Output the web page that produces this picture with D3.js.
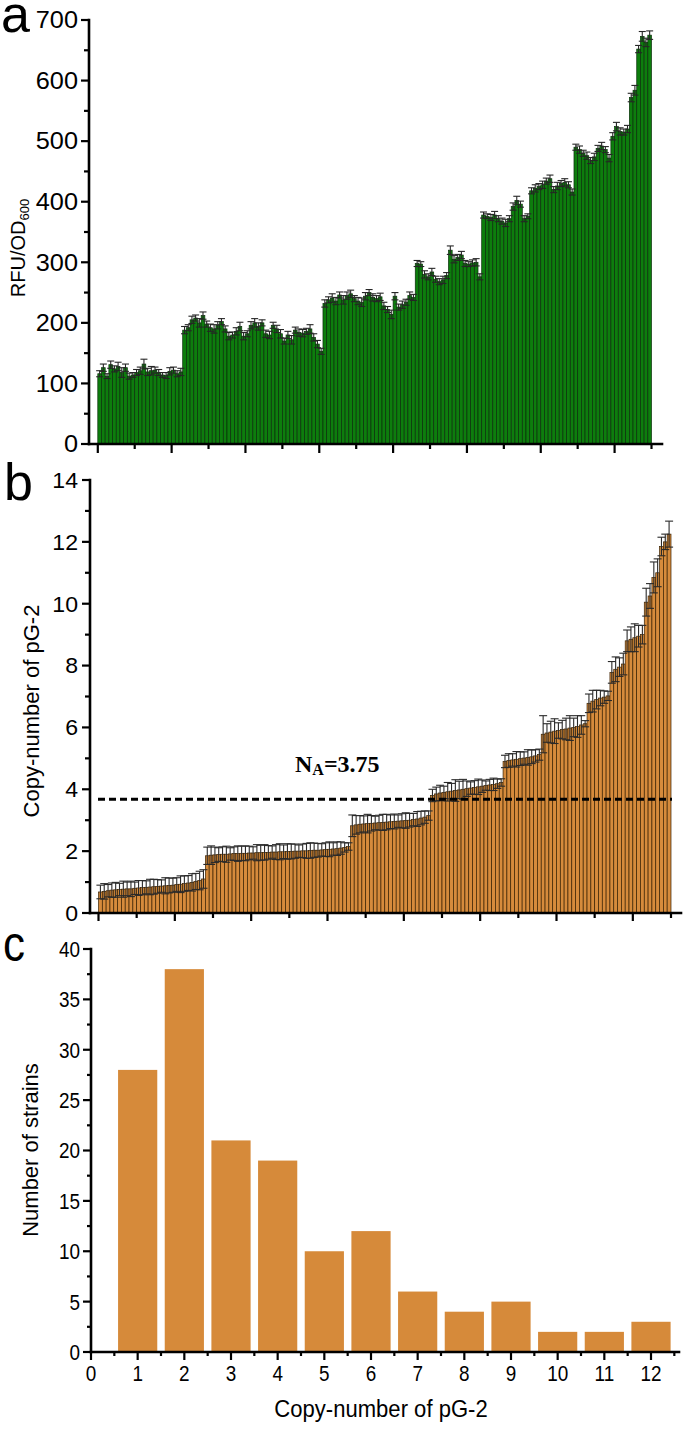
<!DOCTYPE html>
<html><head><meta charset="utf-8">
<script src="https://cdn.jsdelivr.net/npm/d3@7"></script>
<style>body{margin:0;background:#fff}svg{display:block}</style>
</head><body>
<svg id="chart" width="685" height="1453"></svg>
<script>
// ---------- DATA ----------
// Panel a: RFU/OD600 of the 150 strains (same order as panel b)
const rfuValues = [
  116,126,112,131,124,128,118,126,112,114,118,121,132,119,121,122,118,114,113,120,122,116,119,
  188,192,205,208,200,212,198,192,190,196,202,190,178,180,186,194,178,182,196,200,194,200,182,180,196,190,182,170,180,172,188,184,183,186,190,176,165,153,
  232,238,241,236,246,238,245,248,240,236,234,244,250,242,240,243,228,222,214,244,226,230,234,245,242,
  298,297,280,276,284,272,268,271,278,320,305,308,312,298,297,299,300,276,
  378,376,374,378,372,368,365,372,392,402,396,372,376,
  418,422,425,428,434,438,420,426,430,432,428,416,
  490,486,480,476,468,474,488,492,486,472,
  508,524,516,515,520,
  572,584,
  652,673,663,675
];
const rfuErrors = [
  5,6,4,6,5,7,8,6,5,4,5,6,8,6,7,5,5,4,5,6,5,5,6,
  6,5,6,5,7,6,5,6,7,6,5,5,6,5,6,7,6,5,6,7,6,5,6,6,5,6,7,5,6,7,5,6,6,5,7,6,6,5,
  6,5,7,6,5,7,6,6,5,6,7,6,5,6,5,6,6,5,7,6,5,6,5,6,5,
  5,4,6,5,6,5,5,6,5,7,6,5,6,5,4,5,6,5,
  5,4,5,6,5,5,6,5,6,7,5,5,4,
  5,6,5,6,5,6,5,6,5,6,5,5,
  5,6,5,6,5,6,5,6,5,6,
  6,7,6,5,6,
  7,8,
  6,8,7,7
];
// Panel b: copy-number of pG-2 for the 150 strains (sorted)
const copyValues = [
  0.68,0.70,0.72,0.74,0.75,0.76,0.77,0.78,0.78,0.80,0.81,0.82,0.83,0.84,0.85,0.86,0.87,0.88,0.89,0.90,0.92,0.93,0.95,0.97,0.99,1.02,1.05,1.10,
  1.85,1.87,1.88,1.89,1.90,1.90,1.91,1.92,1.92,1.93,1.93,1.94,1.94,1.95,1.95,1.96,1.96,1.97,1.97,1.98,1.98,1.99,1.99,2.00,2.00,2.01,2.01,2.02,2.03,2.03,2.04,2.05,2.06,2.07,2.08,2.10,2.12,2.15,
  2.82,2.85,2.87,2.88,2.89,2.90,2.91,2.92,2.93,2.94,2.95,2.96,2.97,2.98,2.99,3.00,3.02,3.04,3.07,3.10,3.15,
  3.80,3.85,3.88,3.90,3.92,3.94,3.96,3.98,4.00,4.02,4.04,4.06,4.08,4.10,4.12,4.14,4.16,4.18,4.22,
  4.90,4.93,4.95,4.97,4.99,5.01,5.03,5.05,5.08,5.12,
  5.78,5.82,5.85,5.88,5.90,5.93,5.95,5.98,6.00,6.03,6.08,6.12,
  6.78,6.85,6.90,6.95,6.98,7.02,
  7.78,7.88,7.95,8.05,
  8.80,8.85,8.90,8.95,9.00,
  10.05,10.25,
  10.85,11.00,
  11.85,12.00,12.25
];
const copyErrors = [
  0.22,0.25,0.20,0.23,0.24,0.20,0.26,0.22,0.25,0.20,0.24,0.23,0.21,0.25,0.24,0.22,0.20,0.26,0.24,0.23,0.22,0.27,0.25,0.24,0.28,0.26,0.30,0.30,
  0.28,0.30,0.25,0.22,0.24,0.26,0.20,0.22,0.25,0.23,0.24,0.22,0.20,0.26,0.24,0.25,0.22,0.20,0.24,0.26,0.22,0.25,0.24,0.23,0.20,0.22,0.24,0.25,0.23,0.22,0.20,0.22,0.24,0.20,0.22,0.20,0.15,0.12,
  0.35,0.30,0.28,0.26,0.30,0.25,0.22,0.24,0.26,0.25,0.22,0.24,0.20,0.23,0.25,0.22,0.20,0.24,0.22,0.20,0.15,
  0.20,0.22,0.25,0.20,0.30,0.25,0.35,0.28,0.32,0.25,0.20,0.22,0.25,0.20,0.15,0.18,0.20,0.15,0.12,
  0.20,0.22,0.20,0.25,0.22,0.20,0.25,0.22,0.20,0.18,
  0.60,0.30,0.35,0.40,0.25,0.30,0.35,0.40,0.30,0.35,0.30,0.10,
  0.30,0.35,0.30,0.25,0.20,0.15,
  0.35,0.40,0.30,0.35,
  0.35,0.40,0.45,0.35,0.30,
  0.45,0.40,
  0.50,0.45,
  0.30,0.25,0.42
];
const meanLineValue = 3.68;
const meanLabelText = "3.75";
// Panel c: histogram
const histBins = [1,2,3,4,5,6,7,8,9,10,11,12];
const histCounts = [28,38,21,19,10,12,6,4,5,2,2,3];
// tick values
const rfuTicks = [0,100,200,300,400,500,600,700];
const rfuMinorTicks = [50,150,250,350,450,550,650];
const copyTicks = [0,2,4,6,8,10,12,14];
const copyMinorTicks = [1,3,5,7,9,11,13];
const strainMajorTicks = [0,20,40,60,80,100,120,140];
const strainMinorTicks = [10,30,50,70,90,110,130,150];
const countTicks = [0,5,10,15,20,25,30,35,40];
const countMinorTicks = [2.5,7.5,12.5,17.5,22.5,27.5,32.5,37.5];
const binTicks = [0,1,2,3,4,5,6,7,8,9,10,11,12];
const binMinorTicks = [0.5,1.5,2.5,3.5,4.5,5.5,6.5,7.5,8.5,9.5,10.5,11.5,12.5];

// ---------- DRAWING ----------
const svg = d3.select("#chart");
const FONT = "'Liberation Sans', Arial, Helvetica, sans-serif";
const AX = 2.6;

function vAxis(g, scale, x, y0, y1, major, minor, fmt, fs, labelRight, majLen, minLen, sx) {
  g.append("line").attr("x1", x).attr("x2", x).attr("y1", y0).attr("y2", y1)
    .attr("stroke", "#000").attr("stroke-width", AX).attr("stroke-linecap","square");
  g.selectAll(null).data(major).enter().append("line")
    .attr("x1", x).attr("x2", x - majLen).attr("y1", d => scale(d)).attr("y2", d => scale(d))
    .attr("stroke", "#000").attr("stroke-width", 2.2);
  g.selectAll(null).data(minor).enter().append("line")
    .attr("x1", x).attr("x2", x - minLen).attr("y1", d => scale(d)).attr("y2", d => scale(d))
    .attr("stroke", "#000").attr("stroke-width", 2.2);
  g.selectAll(null).data(major).enter().append("text")
    .attr("transform", d => `translate(${labelRight},${scale(d) + fs*0.36}) scale(${sx},1)`)
    .attr("text-anchor", "end").attr("font-family", FONT).attr("font-size", fs)
    .text(d => fmt(d));
}
function hAxis(g, scale, y, x0, x1, major, minor, majLen, minLen) {
  g.append("line").attr("x1", x0).attr("x2", x1).attr("y1", y).attr("y2", y)
    .attr("stroke", "#000").attr("stroke-width", AX).attr("stroke-linecap","square");
  g.selectAll(null).data(major).enter().append("line")
    .attr("x1", d => scale(d)).attr("x2", d => scale(d)).attr("y1", y).attr("y2", y + majLen)
    .attr("stroke", "#000").attr("stroke-width", 2.2);
  g.selectAll(null).data(minor).enter().append("line")
    .attr("x1", d => scale(d)).attr("x2", d => scale(d)).attr("y1", y).attr("y2", y + minLen)
    .attr("stroke", "#000").attr("stroke-width", 2.2);
}
function errorBars(g, data, xs, ys, capW, color) {
  const eg = g.append("g").attr("stroke", color).attr("stroke-width", 1.1);
  data.forEach((d, i) => {
    const cx = (xs(i) + xs(i + 1)) / 2;
    const yt = ys(d.v + d.e), yb = ys(d.v - d.e);
    eg.append("line").attr("x1", cx).attr("x2", cx).attr("y1", yt).attr("y2", yb);
    eg.append("line").attr("x1", cx - capW/2).attr("x2", cx + capW/2).attr("y1", yt).attr("y2", yt);
    eg.append("line").attr("x1", cx - capW/2).attr("x2", cx + capW/2).attr("y1", yb).attr("y2", yb);
  });
}

// ===== Panel a =====
{
  const g = svg.append("g");
  const x = d3.scaleLinear().domain([0, 150]).range([97.8, 651.5]);
  const y = d3.scaleLinear().domain([0, 700]).range([444, 20]);
  const data = rfuValues.map((v, i) => ({v, e: rfuErrors[i]}));
  g.selectAll("rect").data(data).enter().append("rect")
    .attr("x", (d, i) => x(i)).attr("width", (d, i) => x(i + 1) - x(i))
    .attr("y", d => y(d.v)).attr("height", d => y(0) - y(d.v))
    .attr("fill", "#0d7d0d").attr("stroke", "#0b2f0b").attr("stroke-width", 0.7);
  errorBars(g, data, x, y, 7, "#262626");
  vAxis(g, y, 89, 444, 20, rfuTicks, rfuMinorTicks, d => d, 23, 78, 8, 5, 1.1);
  hAxis(g, x, 444, 89, 662, strainMajorTicks, strainMinorTicks, 9, 5);
  const t = g.append("text").attr("transform", "translate(25,248) rotate(-90)")
    .attr("text-anchor", "middle").attr("font-family", FONT).attr("font-size", 20);
  t.append("tspan").text("RFU/OD");
  t.append("tspan").attr("font-size", 13).attr("dy", 4).text("600");
  svg.append("text").attr("x", 1).attr("y", 32).attr("font-family", FONT).attr("font-size", 52).text("a");
}

// ===== Panel b =====
{
  const g = svg.append("g");
  const x = d3.scaleLinear().domain([0, 150]).range([98.5, 671]);
  const y = d3.scaleLinear().domain([0, 14]).range([913, 480]);
  const data = copyValues.map((v, i) => ({v, e: copyErrors[i]}));
  g.selectAll("rect").data(data).enter().append("rect")
    .attr("x", (d, i) => x(i)).attr("width", (d, i) => x(i + 1) - x(i))
    .attr("y", d => y(d.v)).attr("height", d => y(0) - y(d.v))
    .attr("fill", "#d68b3c").attr("stroke", "#3a2100").attr("stroke-width", 0.7);
  errorBars(g, data, x, y, 8, "#2a2a2a");
  g.append("line").attr("x1", 98).attr("x2", 672)
    .attr("y1", y(meanLineValue)).attr("y2", y(meanLineValue))
    .attr("stroke", "#000").attr("stroke-width", 3).attr("stroke-dasharray", "7,4");
  const lab = g.append("text").attr("x", 295).attr("y", 772)
    .attr("font-family", "'Liberation Serif', 'Times New Roman', serif").attr("font-weight", "bold").attr("font-size", 24);
  lab.append("tspan").text("N");
  lab.append("tspan").attr("font-size", 16).attr("dy", 3).text("A");
  lab.append("tspan").attr("dy", -3).text("=" + meanLabelText);
  vAxis(g, y, 90, 913, 480, copyTicks, copyMinorTicks, d => d, 22, 78, 8, 5, 1.05);
  hAxis(g, x, 913, 90, 681, strainMajorTicks, strainMinorTicks, 8, 5);
  g.append("text").attr("transform", "translate(39,711) rotate(-90)")
    .attr("text-anchor", "middle").attr("font-family", FONT).attr("font-size", 22)
    .text("Copy-number of pG-2");
  svg.append("text").attr("x", 4).attr("y", 500).attr("font-family", FONT).attr("font-size", 52).text("b");
}

// ===== Panel c =====
{
  const g = svg.append("g");
  const x = d3.scaleLinear().domain([0, 12]).range([91, 651]);
  const y = d3.scaleLinear().domain([0, 40]).range([1352, 949]);
  const bw = 0.84;
  g.selectAll("rect").data(histBins).enter().append("rect")
    .attr("x", d => x(d - bw/2)).attr("width", x(bw) - x(0))
    .attr("y", (d, i) => y(histCounts[i])).attr("height", (d, i) => y(0) - y(histCounts[i]))
    .attr("fill", "#d68a3a");
  vAxis(g, y, 91, 1352, 949, countTicks, countMinorTicks, d => d, 22, 80, 8, 4, 0.86);
  hAxis(g, x, 1352, 91, 679, binTicks, binMinorTicks, 8, 4);
  g.selectAll(null).data(binTicks).enter().append("text")
    .attr("transform", d => `translate(${x(d)},1381) scale(0.86,1)`)
    .attr("text-anchor", "middle").attr("font-family", FONT).attr("font-size", 22).text(d => d);
  g.append("text").attr("transform", "translate(381,1417) scale(0.92,1)")
    .attr("text-anchor", "middle").attr("font-family", FONT).attr("font-size", 24)
    .text("Copy-number of pG-2");
  g.append("text").attr("transform", "translate(38,1150) rotate(-90)")
    .attr("text-anchor", "middle").attr("font-family", FONT).attr("font-size", 22)
    .text("Number of strains");
  svg.append("text").attr("transform", "translate(3,961) scale(0.88,1)").attr("font-family", FONT).attr("font-size", 50).text("c");
}
</script>
</body></html>
